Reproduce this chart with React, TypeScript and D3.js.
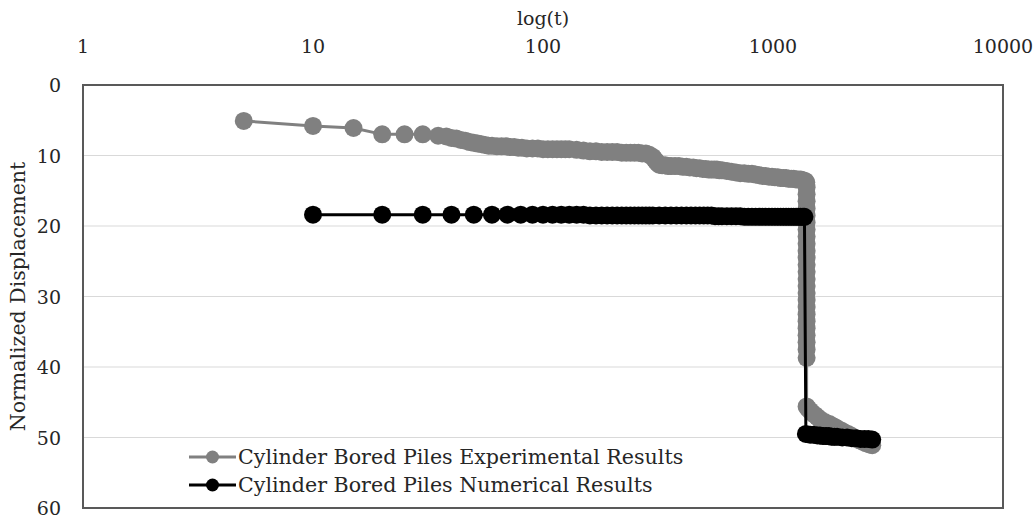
import React from "react";
import * as d3 from "d3";

// [time, normalized displacement]
const expData: [number, number][] = [
  [5, 5.1], [10, 5.8], [15, 6.1], [20, 7.0], [25, 7.0], [30, 7.0], [35, 7.2], [38, 7.3], [40, 7.5], [42, 7.6],
  [44, 7.8], [46, 7.9], [48, 8.1], [50, 8.2], [52, 8.3], [54, 8.4], [56, 8.5], [58, 8.6], [60, 8.6], [63, 8.7],
  [66, 8.7], [69, 8.7], [72, 8.8], [75, 8.8], [78, 8.9], [81, 8.9], [85, 9.0], [90, 9.0], [95, 9.0], [100, 9.1],
  [105, 9.1], [110, 9.1], [115, 9.1], [120, 9.1], [125, 9.1], [130, 9.1], [140, 9.2], [150, 9.3], [160, 9.4], [170, 9.4],
  [180, 9.5], [190, 9.5], [200, 9.5], [210, 9.5], [220, 9.6], [230, 9.6], [240, 9.6], [250, 9.6], [260, 9.6], [270, 9.7],
  [280, 9.7], [290, 9.9], [300, 10.2], [305, 10.5], [310, 10.8], [315, 11.1], [320, 11.3], [330, 11.4], [340, 11.4], [350, 11.5],
  [360, 11.5], [375, 11.5], [390, 11.5], [405, 11.6], [420, 11.6], [435, 11.7], [450, 11.7], [465, 11.8], [480, 11.8], [495, 11.9],
  [510, 11.9], [525, 12.0], [540, 12.0], [555, 12.0], [570, 12.0], [585, 12.1], [600, 12.1], [630, 12.2], [660, 12.3], [690, 12.4],
  [720, 12.5], [750, 12.5], [780, 12.6], [810, 12.6], [840, 12.7], [870, 12.8], [900, 12.9], [930, 12.9], [960, 13.0], [990, 13.0],
  [1020, 13.1], [1050, 13.1], [1080, 13.2], [1110, 13.2], [1140, 13.2], [1170, 13.3], [1200, 13.3], [1230, 13.3], [1260, 13.4], [1290, 13.4],
  [1320, 13.4], [1350, 13.5], [1380, 13.6], [1395, 13.8], [1400, 14.5], [1400, 15.5], [1400, 16.5], [1400, 17.5], [1400, 18.5], [1400, 19.5],
  [1400, 20.5], [1400, 21.5], [1400, 22.5], [1400, 23.5], [1400, 24.5], [1400, 25.5], [1400, 26.5], [1400, 27.5], [1400, 28.5], [1400, 29.5],
  [1400, 30.5], [1400, 31.5], [1400, 32.5], [1400, 33.5], [1400, 34.5], [1400, 35.5], [1400, 36.5], [1400, 37.5], [1400, 38.7], [1400, 45.6],
  [1420, 45.9], [1450, 46.2], [1480, 46.5], [1520, 46.8], [1560, 47.1], [1600, 47.4], [1680, 47.8], [1760, 48.1], [1830, 48.4], [1900, 48.7],
  [1980, 49.0], [2050, 49.3], [2120, 49.5], [2200, 49.8], [2250, 50.0], [2300, 50.2], [2380, 50.4], [2450, 50.6], [2530, 50.8], [2600, 50.9],
  [2650, 51.0], [2700, 51.1],
];

const numData: [number, number][] = [
  [10, 18.4], [20, 18.4], [30, 18.4], [40, 18.4], [50, 18.4], [60, 18.4], [70, 18.4], [80, 18.4], [90, 18.4], [100, 18.4],
  [110, 18.4], [120, 18.4], [130, 18.4], [140, 18.4], [150, 18.4], [160, 18.5], [170, 18.5], [180, 18.5], [190, 18.5], [200, 18.5],
  [210, 18.5], [220, 18.5], [230, 18.5], [240, 18.5], [250, 18.5], [260, 18.5], [270, 18.5], [280, 18.5], [290, 18.5], [300, 18.5],
  [320, 18.5], [340, 18.5], [360, 18.5], [380, 18.5], [400, 18.5], [420, 18.5], [440, 18.5], [460, 18.5], [480, 18.5], [500, 18.5],
  [520, 18.5], [540, 18.5], [560, 18.6], [580, 18.6], [600, 18.6], [630, 18.6], [660, 18.6], [690, 18.6], [720, 18.6], [750, 18.7],
  [780, 18.7], [810, 18.7], [840, 18.7], [870, 18.7], [900, 18.7], [930, 18.7], [960, 18.7], [990, 18.7], [1020, 18.7], [1050, 18.7],
  [1080, 18.7], [1110, 18.7], [1140, 18.7], [1170, 18.7], [1200, 18.7], [1230, 18.7], [1260, 18.7], [1290, 18.7], [1320, 18.7], [1350, 18.7],
  [1370, 18.7], [1390, 49.5], [1450, 49.6], [1500, 49.6], [1560, 49.7], [1600, 49.7], [1650, 49.8], [1700, 49.8], [1750, 49.8], [1800, 49.9],
  [1850, 49.9], [1900, 49.9], [2000, 50.0], [2100, 50.0], [2200, 50.1], [2300, 50.1], [2400, 50.2], [2500, 50.2], [2600, 50.2], [2700, 50.3],
];

const xTicks = [1, 10, 100, 1000, 10000];
const yTicks = [0, 10, 20, 30, 40, 50, 60];
const seriesNames = ["Cylinder Bored Piles Experimental Results", "Cylinder Bored Piles Numerical Results"];
const seriesColors = ["#808080", "#000000"];

const W = 1033, H = 522;
const left = 83, right = 1003, top = 85, bottom = 508;
const FONT = "'DejaVu Serif', 'Liberation Serif', serif";

export default function App() {
  const x = d3.scaleLog().domain([1, 10000]).range([left, right]);
  const y = d3.scaleLinear().domain([0, 60]).range([top, bottom]);
  const series = [expData, numData];
  const line = d3.line<[number, number]>().x(d => x(d[0])).y(d => y(d[1]));
  const r = 9;
  const txt = { fontFamily: FONT, fill: "#262626" } as React.CSSProperties;
  return (
    <svg width={W} height={H} style={{ position: "absolute", left: 0, top: 0, background: "#fff" }}>
      <rect x={0} y={0} width={W} height={H} fill="#fff" />
      {yTicks.slice(1, -1).map(v => (
        <line key={v} x1={left} x2={right} y1={y(v)} y2={y(v)} stroke="#d9d9d9" strokeWidth={1.2} />
      ))}
      {series.map((s, si) => (
        <g key={si}>
          <path d={line(s) || ""} fill="none" stroke={seriesColors[si]} strokeWidth={3} />
          {s.map((d, i) => (
            <circle key={i} cx={x(d[0])} cy={y(d[1])} r={r} fill={seriesColors[si]} />
          ))}
        </g>
      ))}
      <rect x={left} y={top} width={right - left} height={bottom - top} fill="none" stroke="#595959" strokeWidth={2} />
      {xTicks.map(v => (
        <text key={v} x={x(v)} y={46} textAnchor="middle" dominantBaseline="central" fontSize={19} style={txt}>{v}</text>
      ))}
      {yTicks.map(v => (
        <text key={v} x={61} y={y(v)} textAnchor="end" dominantBaseline="central" fontSize={19} style={txt}>{v}</text>
      ))}
      <text x={(left + right) / 2} y={18} textAnchor="middle" dominantBaseline="central" fontSize={19} style={txt}>log(t)</text>
      <text transform={`translate(18,${(top + bottom) / 2}) rotate(-90)`} textAnchor="middle" dominantBaseline="central" fontSize={20.5} style={txt}>Normalized Displacement</text>
      {seriesNames.map((n, i) => (
        <g key={n} transform={`translate(0,${457 + i * 28})`}>
          <line x1={189} x2={236} y1={0} y2={0} stroke={seriesColors[i]} strokeWidth={3} />
          <circle cx={212.5} cy={0} r={6.5} fill={seriesColors[i]} />
          <text x={238} y={0} dominantBaseline="central" fontSize={20.6} style={txt}>{n}</text>
        </g>
      ))}
    </svg>
  );
}
